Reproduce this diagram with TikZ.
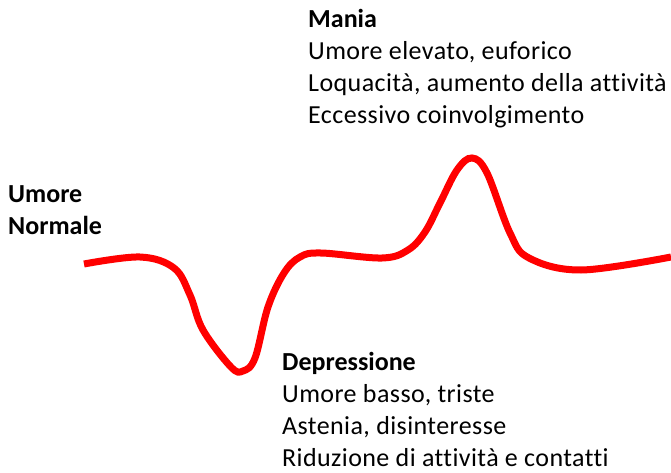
\documentclass[tikz,border=0pt]{standalone}
\usepackage{fontspec}
\setmainfont[Ligatures = NoCommon, UprightFeatures = {LetterSpace = 1.6}]{Carlito}
\usetikzlibrary{positioning}

\begin{document}
\begin{tikzpicture}[x=1pt, y=-1pt, font=\fontsize{26}{32}\selectfont]
	\useasboundingbox (0,0) rectangle (671,473);
	\node[anchor = base west, inner sep = 0, align = left] at (8, 234) (normale) {\textbf{Umore}\\\textbf{Normale}};
	\node[anchor = base west, inner sep = 0, align = left] at (308, 124) (mania) {\textbf{Mania}\\Umore elevato, euforico\\Loquacità, aumento della attività\\Eccessivo coinvolgimento};
	\node[anchor = base west, inner sep = 0, align = left] at (282, 466) (depressione) {\textbf{Depressione}\\Umore basso, triste\\Astenia, disinteresse\\Riduzione di attività e contatti};
	\draw[line width = 7pt, color = red] plot[smooth, tension = 0.6] coordinates {(84,264) (140,257) (174,268) (190,295) (203,330) (231,367) (243,371) (255,358) (268,307) (284,273) (300,257) (321,253) (382,258) (408,250) (425,232) (440,203) (457,170) (472,158) (487,173) (510,233) (529,258) (581,270) (671,257)};
\end{tikzpicture}
\end{document}
